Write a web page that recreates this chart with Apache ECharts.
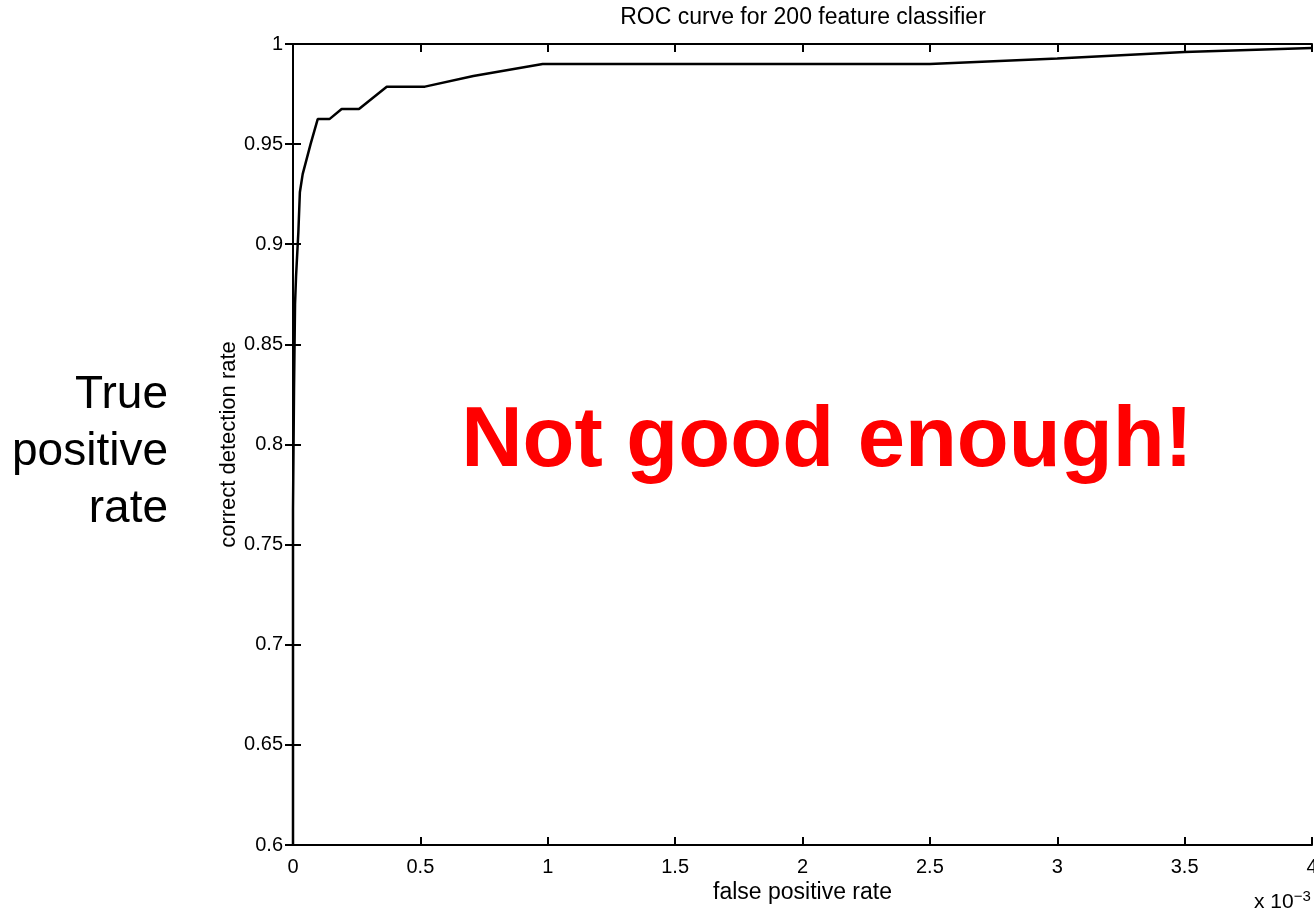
<!DOCTYPE html>
<html>
<head>
<meta charset="utf-8">
<script src="https://cdn.jsdelivr.net/npm/echarts@6/dist/echarts.min.js"></script>
<style>
html,body{margin:0;padding:0;background:#fff;overflow:hidden;}
#c{width:1314px;height:914px;}
</style>
</head>
<body>
<div id="c"></div>
<script>
// false positive rate (x 10^-3)
var fpr = [0, 0, 0.004, 0.008, 0.012, 0.021, 0.027, 0.038, 0.069, 0.097, 0.143, 0.191, 0.259, 0.368, 0.518, 0.708, 0.98, 2.5, 3.0, 3.5, 4.0];
// correct detection rate
var tpr = [0.6, 0.7675, 0.8275, 0.87, 0.884, 0.906, 0.926, 0.935, 0.95, 0.9625, 0.9625, 0.9675, 0.9675, 0.9787, 0.9787, 0.984, 0.99, 0.99, 0.9928, 0.996, 0.998];
var titleText = 'ROC curve for 200 feature classifier';
var xName = 'false positive rate';
var yName = 'correct detection rate';
var sideLabel = ['True', 'positive', 'rate'];
var overlay = 'Not good enough!';

var pts = fpr.map(function(v, i){ return [v, tpr[i]]; });
var FONT = '"Liberation Sans", Arial, sans-serif';
var chart = echarts.init(document.getElementById('c'), null, {width: 1314, height: 914});
var axisCommon = {
  axisLine: {show: true, lineStyle: {color: '#000', width: 2}},
  axisTick: {show: true, inside: true, length: 8, lineStyle: {color: '#000', width: 2}},
  splitLine: {show: false}
};
chart.setOption({
  animation: false,
  backgroundColor: '#fff',
  grid: {left: 293, right: 2, top: 44, bottom: 69, containLabel: false, outerBoundsMode: 'none'},
  xAxis: [
    Object.assign({
      type: 'value', min: 0, max: 4, interval: 0.5, position: 'bottom',
      name: xName, nameLocation: 'middle', nameGap: 36, nameMoveOverlap: false,
      nameTextStyle: {fontFamily: FONT, fontSize: 23, color: '#000'},
      axisLabel: {fontFamily: FONT, fontSize: 20, color: '#000', margin: 12}
    }, axisCommon),
    Object.assign({
      type: 'value', min: 0, max: 4, interval: 0.5, position: 'top',
      axisLabel: {show: false}
    }, axisCommon)
  ],
  yAxis: [
    Object.assign({
      type: 'value', min: 0.6, max: 1, interval: 0.05, position: 'left',
      name: yName, nameLocation: 'middle', nameGap: 53, nameRotate: 90, nameMoveOverlap: false,
      nameTextStyle: {fontFamily: FONT, fontSize: 22, color: '#000'},
      axisLabel: {fontFamily: FONT, fontSize: 20, color: '#000', margin: 10,
        formatter: function(v){ return String(parseFloat(v.toFixed(2))); }}
    }, axisCommon),
    Object.assign({
      type: 'value', min: 0.6, max: 1, interval: 0.05, position: 'right',
      axisLabel: {show: false}
    }, axisCommon)
  ],
  series: [{
    type: 'line', data: pts, xAxisIndex: 0, yAxisIndex: 0,
    showSymbol: false, symbol: 'none', clip: false,
    lineStyle: {color: '#000', width: 2.5}
  }],
  graphic: [
    {type: 'text', x: 803, y: 18,
     style: {text: titleText, font: '23px ' + FONT, fill: '#000',
             textAlign: 'center', textVerticalAlign: 'middle'}},
    {type: 'text', x: 168, y: 452,
     style: {text: sideLabel.join('\n'), font: '46px ' + FONT, fill: '#000',
             textAlign: 'right', textVerticalAlign: 'middle', lineHeight: 57}},
    {type: 'text', x: 827, y: 443,
     style: {text: overlay, font: 'bold 85px ' + FONT, fill: '#ff0000',
             textAlign: 'center', textVerticalAlign: 'middle'}},
    {type: 'text', left: 1254, top: 889,
     style: {rich: {a: {fontFamily: FONT, fontSize: 21, fill: '#000'}, s: {fontFamily: FONT, fontSize: 15, fill: '#000', verticalAlign: 'top', padding: [0,0,12,0]}},
             text: '{a|x 10}{s|\u22123}'}}
  ]
});
</script>
</body>
</html>
